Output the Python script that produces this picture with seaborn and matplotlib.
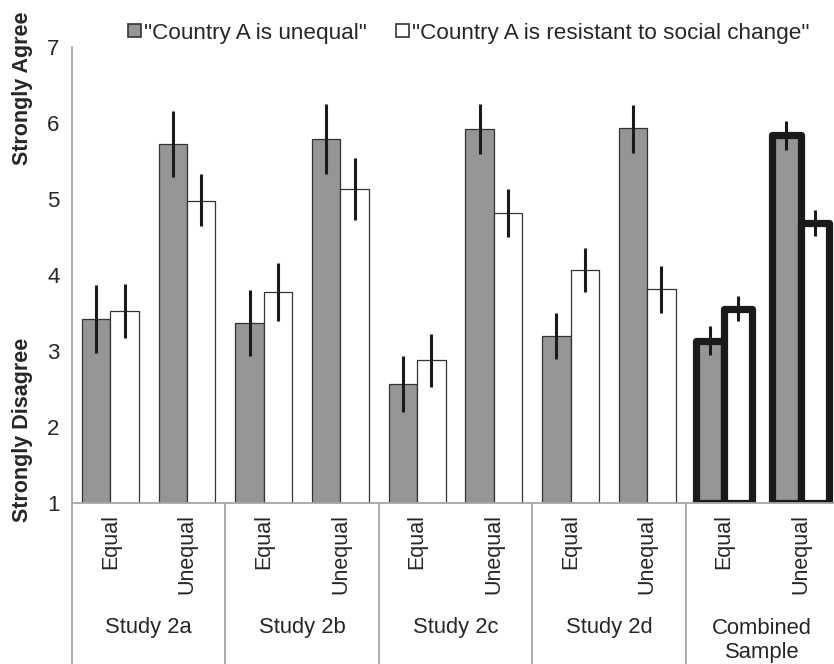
import numpy as np
import pandas as pd
import seaborn as sns
import matplotlib.pyplot as plt
from matplotlib.patches import Patch

# data
studies = ["Study 2a", "Study 2b", "Study 2c", "Study 2d", "Combined\nSample"]
conditions = ["Equal", "Unequal"]
series = ['"Country A is unequal"', '"Country A is resistant to social change"']

unequal_mean = [3.42, 5.73, 3.37, 5.79, 2.56, 5.92, 3.20, 5.93, 3.13, 5.84]
unequal_lo = [2.97, 5.29, 2.94, 5.33, 2.20, 5.59, 2.89, 5.61, 2.95, 5.65]
unequal_hi = [3.87, 6.16, 3.80, 6.25, 2.93, 6.25, 3.50, 6.24, 3.33, 6.03]

resist_mean = [3.53, 4.98, 3.77, 5.13, 2.88, 4.82, 4.06, 3.82, 3.55, 4.68]
resist_lo = [3.17, 4.64, 3.39, 4.73, 2.53, 4.50, 3.77, 3.50, 3.39, 4.51]
resist_hi = [3.88, 5.33, 4.16, 5.54, 3.22, 5.13, 4.36, 4.12, 3.72, 4.86]

yticks = [1, 2, 3, 4, 5, 6, 7]

slots = [s + " " + c for s in studies for c in conditions]
df = pd.DataFrame({
    "slot": slots * 2,
    "series": [series[0]] * len(slots) + [series[1]] * len(slots),
    "value": unequal_mean + resist_mean,
})
means = [unequal_mean, resist_mean]
los = [unequal_lo, resist_lo]
his = [unequal_hi, resist_hi]

sns.set_style("white")
plt.rcParams['font.family'] = ['Liberation Sans', 'DejaVu Sans']

grey = "#939598"
axis_grey = "#a6a6a6"

fig = plt.figure(figsize=(8.34, 6.64), dpi=100)
ax = fig.add_axes([72 / 834, 1 - 503 / 664, 767 / 834, 456 / 664])

sns.barplot(data=df, x="slot", y="value", hue="series", order=slots,
            hue_order=series, palette=[grey, "white"], width=0.74,
            edgecolor="#333333", linewidth=0.9, errorbar=None,
            legend=False, ax=ax)

bar_containers = list(ax.containers)
for i, cont in enumerate(bar_containers):
    for j, bar in enumerate(cont):
        # bars start at the bottom of the scale (1)
        bar.set_y(1)
        bar.set_height(means[i][j] - 1)
        xc = bar.get_x() + bar.get_width() / 2
        ax.errorbar(xc, means[i][j],
                    yerr=[[means[i][j] - los[i][j]], [his[i][j] - means[i][j]]],
                    fmt="none", ecolor="#1a1a1a", elinewidth=2.2, capsize=0,
                    zorder=5)
        if j >= 8:
            # combined sample highlighted with thick outline
            bar.set_linewidth(5.2)
            bar.set_edgecolor("#1a1a1a")
            bar.set_joinstyle("round")

ax.set_ylim(1, 7)
ax.set_xlim(-0.5, len(slots) - 0.5)
ax.set_yticks(yticks)
ax.set_yticklabels([str(t) for t in yticks], fontsize=16)
ax.set_xticks(range(len(slots)))
ax.set_xticklabels(conditions * len(studies), rotation=90, fontsize=15.5)
ax.tick_params(axis="y", length=0, pad=9)
ax.tick_params(axis="x", length=0, pad=8)
ax.set_xlabel("")
ax.set_ylabel("")

sns.despine(ax=ax, top=True, right=True)
for side in ["left", "bottom"]:
    ax.spines[side].set_color(axis_grey)
    ax.spines[side].set_linewidth(1.3)

# group separators and group labels below the axis
trans = ax.get_xaxis_transform()
for k in range(len(studies)):
    ax.plot([2 * k - 0.5, 2 * k - 0.5], [0, -0.36], transform=trans,
            color=axis_grey, lw=1.3, clip_on=False)
    ycen = -0.272 if "\n" not in studies[k] else -0.302
    ax.text(2 * k + 0.5, ycen, studies[k], transform=trans, ha="center",
            va="center", fontsize=15.8, linespacing=1.2)

fig.text(23 / 834, 1 - 88 / 664, "Strongly Agree", rotation=90, ha="center",
         va="center", fontsize=15.5, fontweight="bold")
fig.text(23 / 834, 1 - 430 / 664, "Strongly Disagree", rotation=90,
         ha="center", va="center", fontsize=15.5, fontweight="bold")

handles = [Patch(facecolor=grey, edgecolor="#333333", linewidth=1.2),
           Patch(facecolor="white", edgecolor="#333333", linewidth=1.2)]
fig.legend(handles, series, loc="center", bbox_to_anchor=(469 / 834, 1 - 33 / 664),
           ncol=2, frameon=False, fontsize=16.2, handlelength=0.55,
           handleheight=0.55, handletextpad=0.15, columnspacing=1.3)

fig.savefig("out.png", dpi=100)
